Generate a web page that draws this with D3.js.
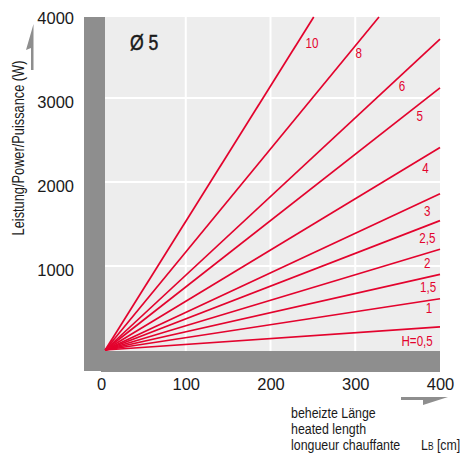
<!DOCTYPE html>
<html lang="de">
<head>
  <meta charset="utf-8" />
  <script src="https://d3js.org/d3.v7.min.js"></script>
  <style>
    body { margin: 0; background: #fff; }
    text { font-family: "Liberation Sans", Arial, sans-serif; fill: #1a1a1a; }
  </style>
</head>
<body>
  <script>
    var width = 470,
      height = 458;

    // Daten
    var xTicks = [0, 100, 200, 300, 400];
    var yTicks = [1000, 2000, 3000, 4000];
    var series = ["H=0,5", "1", "1,5", "2", "2,5", "3", "4", "5", "6", "8", "10"];
    var startL = 5;
    var endL = [400, 400, 400, 400, 400, 400, 400, 400, 400, 328, 251];
    var endP = [275, 610, 900, 1200, 1540, 1860, 2410, 3120, 3700, 3964, 3964];
    var labelL = [373, 387, 386, 385, 385, 385, 383, 376, 355, 304, 249];
    var labelP = [107, 500, 750, 1036, 1333, 1655, 2167, 2786, 3143, 3536, 3655];

    var red = "#e3032d",
      grey = "#8e8e8e",
      narrow = 0.8; // Schmalschrift nachbilden

    var svg = d3.select("body")
      .append("svg")
      .attr("width", width)
      .attr("height", height);

    var x = d3.scaleLinear().domain([0, 400]).range([101, 440]);
    var y = d3.scaleLinear().domain([0, 4000]).range([350, 14]);

    // Hintergrund + grauer Rahmen
    svg.append("rect").attr("x", 105).attr("y", 17).attr("width", 335).attr("height", 334).attr("fill", "#ededed");
    svg.append("rect").attr("x", 84).attr("y", 17).attr("width", 21).attr("height", 354).attr("fill", grey);
    svg.append("rect").attr("x", 101).attr("y", 351).attr("width", 339).attr("height", 21).attr("fill", grey);

    // Gitter
    svg.selectAll(".vgrid")
      .data(xTicks.slice(1, 4))
      .enter().append("line")
      .attr("x1", function (d) { return x(d); })
      .attr("x2", function (d) { return x(d); })
      .attr("y1", 17).attr("y2", 351)
      .attr("stroke", "#fff").attr("stroke-width", 2);

    svg.selectAll(".hgrid")
      .data(yTicks.slice(0, 3))
      .enter().append("line")
      .attr("y1", function (d) { return y(d); })
      .attr("y2", function (d) { return y(d); })
      .attr("x1", 105).attr("x2", 440)
      .attr("stroke", "#fff").attr("stroke-width", 2);

    // Kennlinien
    var line = d3.line().x(function (d) { return x(d[0]); }).y(function (d) { return y(d[1]); });

    svg.selectAll(".kurve")
      .data(series)
      .enter().append("path")
      .attr("d", function (d, i) { return line([[startL, 0], [endL[i], endP[i]]]); })
      .attr("fill", "none")
      .attr("stroke", red)
      .attr("stroke-width", 1.7);

    svg.selectAll(".hlabel")
      .data(series)
      .enter().append("text")
      .attr("transform", function (d, i) {
        return "translate(" + x(labelL[i]) + "," + y(labelP[i]) + ") scale(" + narrow + ",1)";
      })
      .attr("dy", "0.36em")
      .attr("text-anchor", "middle")
      .style("fill", red)
      .style("font-size", "14.5px")
      .text(function (d) { return d; });

    // Achsen
    var yAxis = svg.append("g")
      .attr("transform", "translate(74,0)")
      .call(d3.axisLeft(y).tickValues(yTicks).tickSize(0).tickPadding(0).tickFormat(d3.format("d")));
    yAxis.select(".domain").remove();
    yAxis.selectAll("text")
      .attr("dy", "0.58em")
      .style("font-size", "16.5px")
      .style("font-family", null);

    var xAxis = svg.append("g")
      .attr("transform", "translate(0,378)")
      .call(d3.axisBottom(x).tickValues(xTicks).tickSize(0).tickPadding(0).tickFormat(d3.format("d")));
    xAxis.select(".domain").remove();
    xAxis.selectAll("text")
      .style("font-size", "16.5px")
      .style("font-family", null);
    svg.selectAll(".tick text").style("fill", "#1a1a1a");

    // Titel
    svg.append("text")
      .attr("transform", "translate(130,50) scale(0.8,1)")
      .style("font-size", "22px")
      .style("stroke", "#1a1a1a")
      .style("stroke-width", 0.5)
      .text("Ø 5");

    svg.append("text")
      .attr("transform", "translate(24,148) rotate(-90) scale(" + narrow + ",1)")
      .attr("text-anchor", "middle")
      .style("font-size", "16px")
      .text("Leistung/Power/Puissance (W)");

    var xTitle = svg.append("text")
      .attr("transform", "translate(291,0) scale(" + narrow + ",1)")
      .style("font-size", "15.5px");
    xTitle.append("tspan").attr("x", 0).attr("y", 418).text("beheizte Länge");
    xTitle.append("tspan").attr("x", 0).attr("y", 434).text("heated length");
    xTitle.append("tspan").attr("x", 0).attr("y", 450).text("longueur chauffante");
    xTitle.append("tspan").attr("x", (421 - 291) / narrow).text("L");
    xTitle.append("tspan").style("font-size", "10.5px").text("B");
    xTitle.append("tspan").text(" [cm]");

    // Pfeile
    svg.append("path")
      .attr("d", "M33.5,24L26,50L31,48L31,70L33.5,70Z")
      .attr("fill", grey);
    svg.append("path")
      .attr("d", "M401,397L448,397L423,405L423,400L401,400Z")
      .attr("fill", grey);
  </script>
</body>
</html>
